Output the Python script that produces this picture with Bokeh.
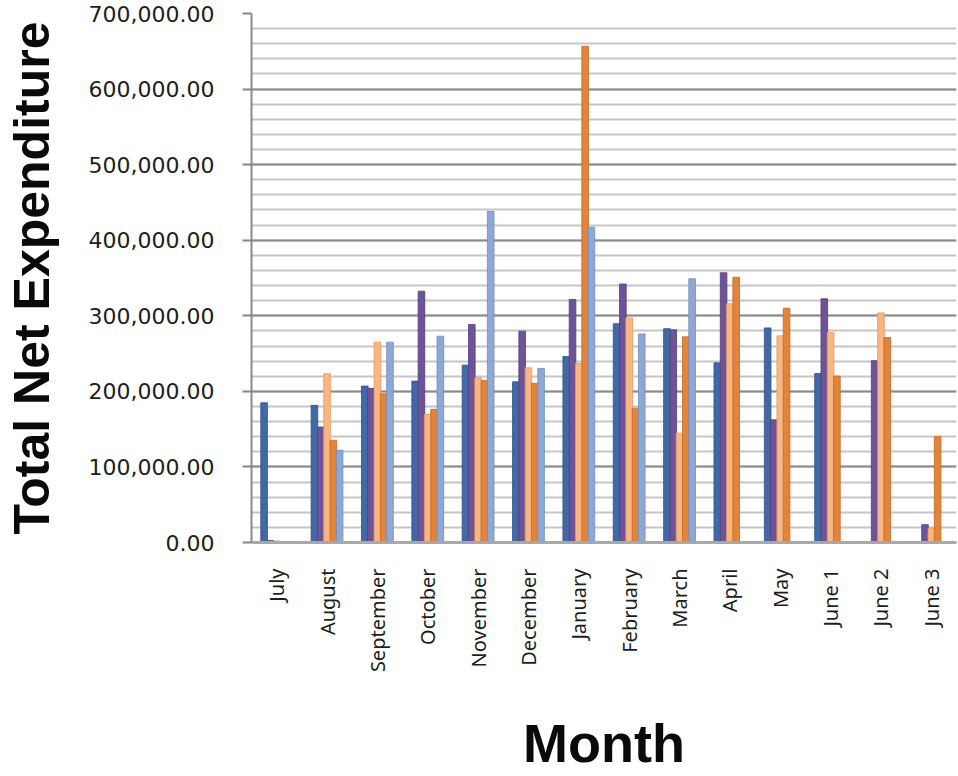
import math
from bokeh.plotting import figure
from bokeh.models import (FactorRange, ColumnDataSource, NumeralTickFormatter,
                          SingleIntervalTicker, Range1d)
from bokeh.transform import dodge
from bokeh.embed import file_html
from bokeh.resources import INLINE

# ---- data ----
months = ["July", "August", "September", "October", "November", "December",
          "January", "February", "March", "April", "May",
          "June 1", "June 2", "June 3"]
series1 = [184900, 181500, 207000, 213600, 234700, 212700, 246200,
           289600, 283000, 237700, 284000, 223600, 0, 0]
series2 = [2500, 152800, 204000, 332500, 288500, 279700, 321700,
           342000, 281600, 357000, 162300, 322600, 240600, 23600]
series3 = [2000, 223300, 265100, 169600, 218000, 231200, 236800,
           297200, 144800, 316000, 273600, 277800, 303800, 18900]
series4 = [0, 135300, 196800, 176200, 214500, 210600, 656600,
           177800, 272200, 351000, 310000, 220300, 271200, 140100]
series5 = [0, 122100, 265100, 273000, 438200, 230400, 417000,
           276000, 349000, 0, 0, 0, 0, 0]
series_names = ["s1", "s2", "s3", "s4", "s5"]
y_max = 700000
y_tick_step = 100000

colors = ["#4169A8", "#6E5496", "#F8B683", "#E3843B", "#8EA8D6"]
edges = ["#2F5189", "#563E7C", "#E49A60", "#C46A24", "#6F8DC0"]

src = ColumnDataSource(dict(month=months, s1=series1, s2=series2,
                            s3=series3, s4=series4, s5=series5))

p = figure(x_range=FactorRange(*months), y_range=Range1d(0, y_max),
           width=958, height=776, output_backend="svg", toolbar_location=None,
           min_border_left=250, min_border_right=2, min_border_top=13,
           min_border_bottom=234)
p.outline_line_color = None
p.background_fill_color = "white"

offsets = [-0.25, -0.125, 0.0, 0.125, 0.25]
for name, off, c, e in zip(series_names, offsets, colors, edges):
    p.vbar(x=dodge("month", off, range=p.x_range), top=name, width=0.132,
           source=src, fill_color=c, line_color=e, line_width=0.8)

# y axis
p.yaxis.ticker = SingleIntervalTicker(interval=y_tick_step, num_minor_ticks=5)
p.yaxis.formatter = NumeralTickFormatter(format="0,0.00")
p.yaxis.major_label_text_font = "DejaVu Sans"
p.yaxis.major_label_text_font_size = "22px"
p.yaxis.major_label_text_color = "#1e1e1e"
p.yaxis.major_label_standoff = 28
p.yaxis.major_tick_out = 9
p.yaxis.major_tick_in = 0
p.yaxis.major_tick_line_color = "#868686"
p.yaxis.major_tick_line_width = 2
p.yaxis.minor_tick_out = 0
p.yaxis.minor_tick_in = 0
p.yaxis.axis_line_color = "#8a8a8a"
p.yaxis.axis_line_width = 2
p.yaxis.axis_label = "Total Net Expenditure"
p.yaxis.axis_label_text_font = "Liberation Sans"
p.yaxis.axis_label_text_font_style = "bold"
p.yaxis.axis_label_text_font_size = "50px"
p.yaxis.axis_label_text_color = "#0a0a0a"
p.yaxis.axis_label_standoff = 26

p.ygrid.grid_line_color = "#8c8c8c"
p.ygrid.grid_line_width = 2
p.ygrid.minor_grid_line_color = "#c6c6c6"
p.ygrid.minor_grid_line_width = 2
p.xgrid.grid_line_color = None

# x axis
p.xaxis.major_label_orientation = math.pi / 2
p.xaxis.major_label_text_font = "Noto Sans"
p.xaxis.major_label_text_font_size = "20px"
p.xaxis.major_label_text_color = "#1e1e1e"
p.xaxis.major_label_standoff = 20
p.xaxis.major_tick_line_color = None
p.xaxis.minor_tick_line_color = None
p.xaxis.axis_line_color = "#a8a8a8"
p.xaxis.axis_line_width = 3
p.xaxis.axis_label = "Month"
p.xaxis.axis_label_text_font = "Liberation Sans"
p.xaxis.axis_label_text_font_style = "bold"
p.xaxis.axis_label_text_font_size = "54px"
p.xaxis.axis_label_text_color = "#0a0a0a"
p.xaxis.axis_label_standoff = 38

open("out.html", "w").write(file_html(p, INLINE))
